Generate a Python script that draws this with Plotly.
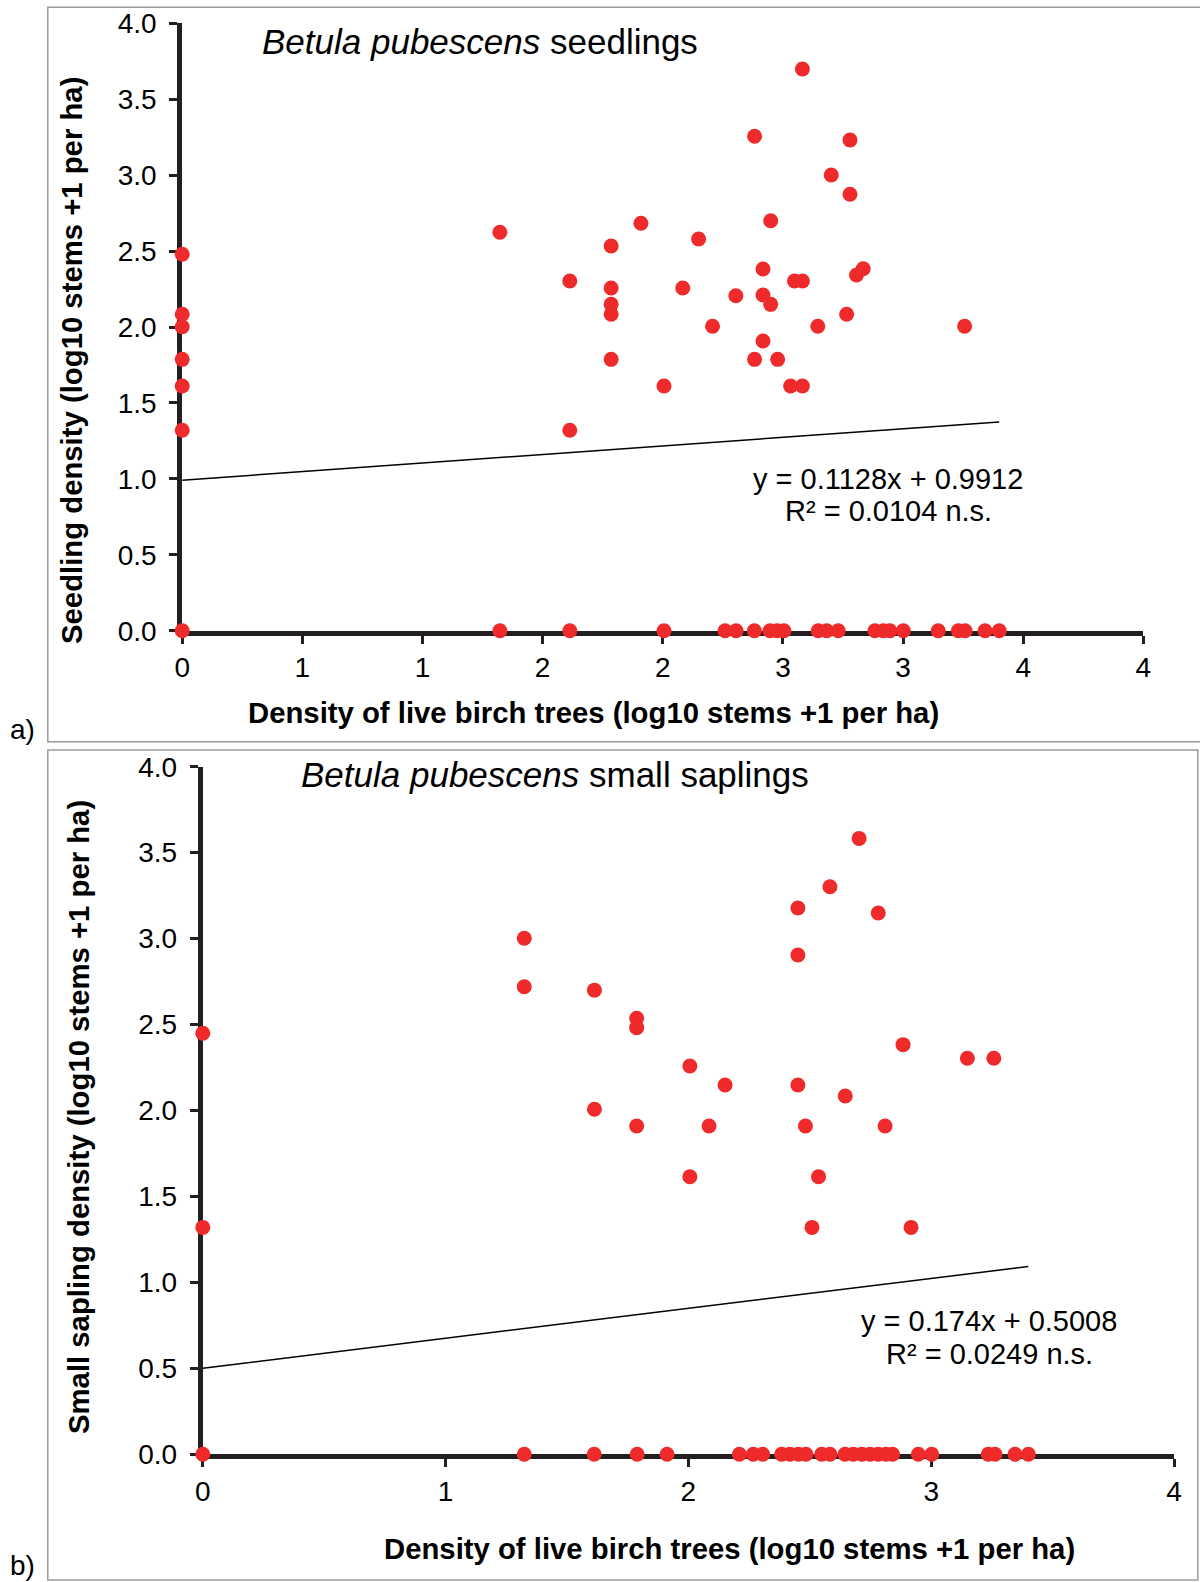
import plotly.graph_objects as go

W, H = 1200, 1582
FONT = "Liberation Sans, Arial, sans-serif"
RED = "#ee2a2a"
AXC = "#231f20"

# ---------------- data (log10 stems +1 per ha) ----------------
# Panel a: seedlings vs live birch trees
a_x = [0.0, 0.0, 0.0, 0.0, 0.0, 0.0,
       1.322, 1.613, 1.613,
       2.581, 2.382, 2.779, 2.701, 2.779,
       1.909, 2.449, 2.149, 1.785, 2.417,
       2.834, 2.806, 2.548, 2.581, 1.785,
       2.083, 2.304, 2.417, 2.449, 1.785,
       1.785, 2.765, 2.207, 2.645, 3.256,
       2.417, 1.785, 2.382, 2.478, 2.005,
       2.532, 2.581,
       0.0, 1.322, 1.613, 2.005, 2.259, 2.305, 2.381, 2.446, 2.476, 2.504,
       2.647, 2.682, 2.730, 2.883, 2.918, 2.945, 3.001, 3.146, 3.230, 3.258,
       3.341, 3.400]
a_y = [2.479, 2.084, 2.002, 1.787, 1.611, 1.320,
       2.624, 2.303, 1.320,
       3.699, 3.256, 3.231, 3.001, 2.874,
       2.683, 2.700, 2.580, 2.533, 2.382,
       2.384, 2.342, 2.303, 2.303, 2.257,
       2.257, 2.206, 2.211, 2.149, 2.149,
       2.084, 2.084, 2.005, 2.005, 2.005,
       1.908, 1.787, 1.787, 1.787, 1.611,
       1.611, 1.611,
       0.0, 0.0, 0.0, 0.0, 0.0, 0.0, 0.0, 0.0, 0.0, 0.0,
       0.0, 0.0, 0.0, 0.0, 0.0, 0.0, 0.0, 0.0, 0.0, 0.0,
       0.0, 0.0]

# Panel b: small saplings vs live birch trees
b_x = [0.0, 0.0,
       1.324, 1.324, 1.613, 1.613,
       2.703, 2.583, 2.451, 2.782, 2.451,
       1.787, 1.787, 2.884, 3.149, 3.258,
       2.006, 2.151, 2.451, 2.646,
       1.787, 2.085, 2.482, 2.810,
       2.006, 2.536, 2.509, 2.917,
       0.0, 1.324, 1.612, 1.789, 1.912, 2.210, 2.267, 2.306, 2.384, 2.418,
       2.453, 2.484, 2.549, 2.583, 2.645, 2.679, 2.714, 2.748, 2.782, 2.814,
       2.841, 2.947, 3.002, 3.235, 3.263, 3.345, 3.400]
b_y = [2.449, 1.320,
       3.002, 2.720, 2.700, 2.007,
       3.583, 3.302, 3.178, 3.149, 2.905,
       2.536, 2.482, 2.383, 2.304, 2.304,
       2.259, 2.148, 2.148, 2.084,
       1.910, 1.910, 1.910, 1.910,
       1.615, 1.615, 1.320, 1.320,
       0.0, 0.0, 0.0, 0.0, 0.0, 0.0, 0.0, 0.0, 0.0, 0.0,
       0.0, 0.0, 0.0, 0.0, 0.0, 0.0, 0.0, 0.0, 0.0, 0.0,
       0.0, 0.0, 0.0, 0.0, 0.0, 0.0, 0.0]

a_slope, a_intercept, a_r2 = 0.1128, 0.9912, 0.0104
b_slope, b_intercept, b_r2 = 0.174, 0.5008, 0.0249

a_xtick_vals = [0, 0.5, 1, 1.5, 2, 2.5, 3, 3.5, 4]
a_xtick_text = ["0", "1", "1", "2", "2", "3", "3", "4", "4"]
b_xtick_vals = [0, 1, 2, 3, 4]
b_xtick_text = ["0", "1", "2", "3", "4"]
y_tick_vals = [0, 0.5, 1, 1.5, 2, 2.5, 3, 3.5, 4]
y_tick_text = ["0.0", "0.5", "1.0", "1.5", "2.0", "2.5", "3.0", "3.5", "4.0"]

a_title = "<i>Betula pubescens</i> seedlings"
b_title = "<i>Betula pubescens</i> small saplings"
x_title = "<b>Density of live birch trees (log10 stems +1 per ha)</b>"
a_ytitle = "<b>Seedling density (log10 stems +1 per ha)</b>"
b_ytitle = "<b>Small sapling density (log10 stems +1 per ha)</b>"


def px(x):
    return x / W


def py(y):
    return 1 - y / H


fig = go.Figure()

# panel a
ax_max = max(a_x)
fig.add_trace(go.Scatter(x=[0, ax_max], y=[a_intercept, a_intercept + a_slope * ax_max],
                         mode="lines", line=dict(color="black", width=1.5),
                         xaxis="x", yaxis="y", hoverinfo="skip"))
fig.add_trace(go.Scatter(x=a_x, y=a_y, mode="markers",
                         marker=dict(color=RED, size=15, line=dict(width=0)),
                         xaxis="x", yaxis="y", cliponaxis=False))
# panel b
bx_max = max(b_x)
fig.add_trace(go.Scatter(x=[0, bx_max], y=[b_intercept, b_intercept + b_slope * bx_max],
                         mode="lines", line=dict(color="black", width=1.5),
                         xaxis="x2", yaxis="y2", hoverinfo="skip"))
fig.add_trace(go.Scatter(x=b_x, y=b_y, mode="markers",
                         marker=dict(color=RED, size=15, line=dict(width=0)),
                         xaxis="x2", yaxis="y2", cliponaxis=False))

common = dict(showline=True, linecolor=AXC, linewidth=5, showgrid=False, zeroline=False,
              ticks="outside", tickcolor=AXC, tickwidth=3, ticklen=8,
              tickfont=dict(family=FONT, size=28, color="black"),
              layer="below traces", range=[0, 4], fixedrange=True, automargin=False)

fig.update_layout(
    width=W, height=H,
    margin=dict(l=0, r=0, t=0, b=0, autoexpand=False),
    paper_bgcolor="white", plot_bgcolor="white",
    showlegend=False,
    font=dict(family=FONT, color="black"),
    xaxis=dict(common, domain=[px(182.2), px(1143.4)], anchor="y",
               tickmode="array", tickvals=a_xtick_vals, ticktext=a_xtick_text,
               ticklabelstandoff=0),
    yaxis=dict(common, domain=[py(630.7), py(23.3)], anchor="x",
               tickmode="array", tickvals=y_tick_vals, ticktext=y_tick_text,
               ticklabelstandoff=7),
    xaxis2=dict(common, domain=[px(202.8), px(1174.0)], anchor="y2",
                tickmode="array", tickvals=b_xtick_vals, ticktext=b_xtick_text,
                ticklabelstandoff=0),
    yaxis2=dict(common, domain=[py(1454.3), py(766.7)], anchor="x2",
                tickmode="array", tickvals=y_tick_vals, ticktext=y_tick_text,
                ticklabelstandoff=7),
)

# panel frames
fig.add_shape(type="rect", xref="paper", yref="paper",
              x0=px(47.8), x1=px(1210), y0=py(741.7), y1=py(7.3),
              line=dict(color="#9a9a9a", width=1.5), layer="below")
fig.add_shape(type="rect", xref="paper", yref="paper",
              x0=px(47.8), x1=px(1197.8), y0=py(1580), y1=py(750),
              line=dict(color="#9a9a9a", width=1.5), layer="below")


def ann(text, x, y, size, xanchor="center", angle=0):
    fig.add_annotation(text=text, xref="paper", yref="paper", x=px(x), y=py(y),
                       xanchor=xanchor, yanchor="middle", showarrow=False,
                       textangle=angle, font=dict(family=FONT, size=size, color="black"))


ann(a_title, 260.4, 41.5, 35, xanchor="left")
ann(b_title, 298.5, 774, 35, xanchor="left")
ann(x_title, 593.7, 712, 29.3)
ann(x_title, 729.2, 1548, 29.3)
ann(a_ytitle, 71, 361, 29.3, angle=-90)
ann(b_ytitle, 78, 1117, 29.3, angle=-90)
ann(f"y = {a_slope}x + {a_intercept}", 888, 479, 29)
ann(f"R² = {a_r2} n.s.", 888, 511, 29)
ann(f"y = {b_slope}x + {b_intercept}", 989.4, 1321, 29)
ann(f"R² = {b_r2} n.s.", 989.4, 1354, 29)
ann("a)", 22.5, 729, 28)
ann("b)", 22.5, 1565, 28)

fig.write_html("out.html")
